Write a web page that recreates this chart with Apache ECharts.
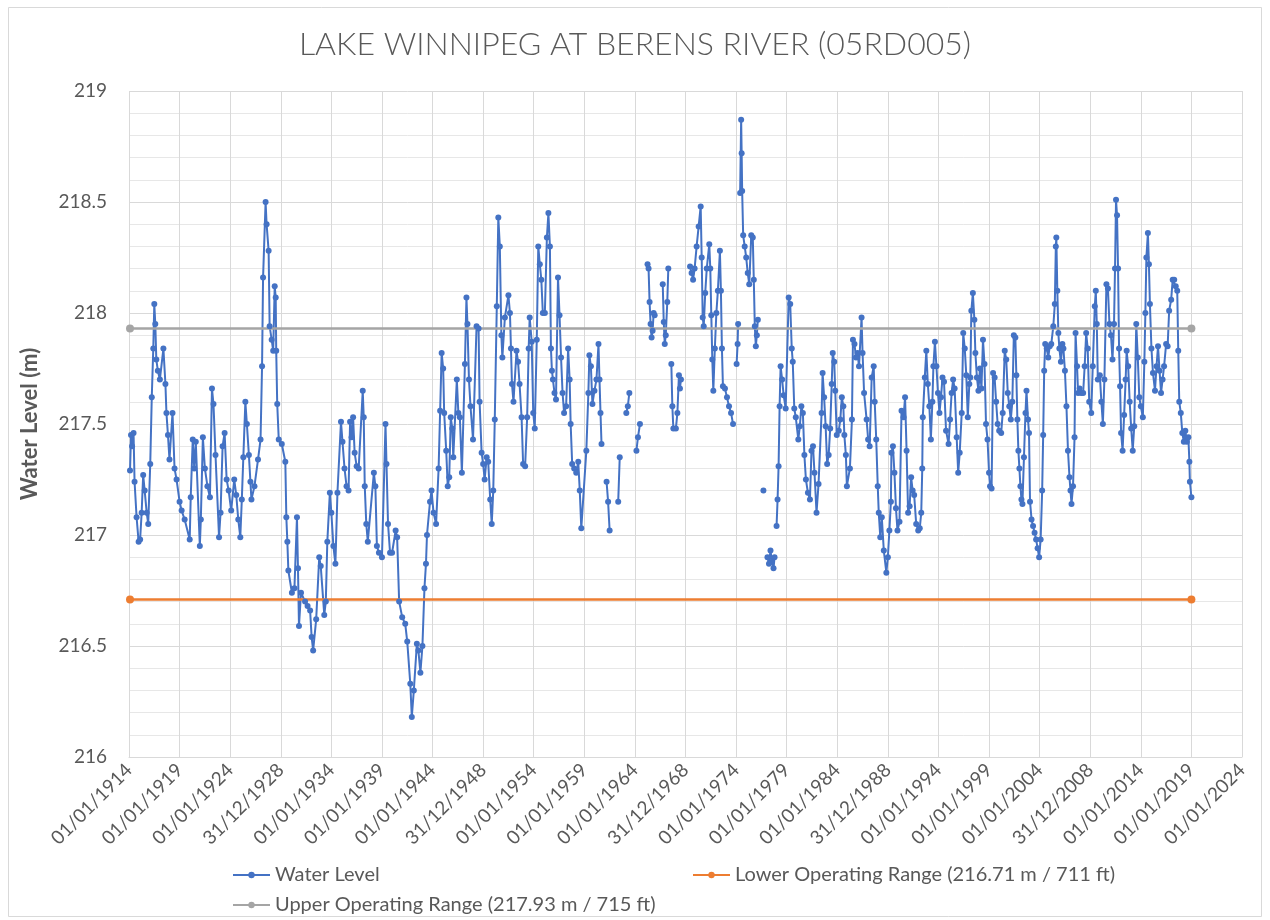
<!DOCTYPE html>
<html>
<head>
<meta charset="utf-8">
<title>Lake Winnipeg at Berens River (05RD005)</title>
<script src="https://cdn.jsdelivr.net/npm/echarts@6/dist/echarts.min.js"></script>
<style>
  html, body { margin: 0; padding: 0; background: #fff; }
  #chart { width: 1270px; height: 920px; }
</style>
</head>
<body>
<div id="chart"></div>
<script>
'use strict';

// sample dates (decimal years); null level = gap in the record
const sampleYears = [
  1914.10, 1914.20, 1914.30, 1914.45, 1914.55, 1914.75, 1914.95, 1915.10, 1915.25, 1915.40,
  1915.55, 1915.75, 1915.90, 1916.10, 1916.25, 1916.40, 1916.50, 1916.60, 1916.70, 1916.85,
  1917.05, 1917.40, 1917.60, 1917.70, 1917.85, 1918.00, 1918.30, 1918.50, 1918.70, 1919.00,
  1919.20, 1919.50, 1920.00, 1920.10, 1920.30, 1920.45, 1920.60, 1921.00, 1921.10, 1921.30,
  1921.50, 1921.75, 1922.00, 1922.20, 1922.35, 1922.55, 1922.90, 1923.05, 1923.25, 1923.45,
  1923.65, 1923.85, 1924.10, 1924.40, 1924.60, 1924.80, 1925.00, 1925.15, 1925.30, 1925.50,
  1925.65, 1925.85, 1926.00, 1926.10, 1926.40, 1926.75, 1927.00, 1927.15, 1927.25, 1927.50,
  1927.60, 1927.80, 1927.90, 1928.10, 1928.25, 1928.40, 1928.50, 1928.55, 1928.65, 1928.80,
  1929.10, 1929.45, 1929.55, 1929.65, 1929.75, 1930.10, 1930.35, 1930.60, 1930.70, 1930.80,
  1931.00, 1931.40, 1931.65, 1931.90, 1932.05, 1932.20, 1932.50, 1932.80, 1932.95, 1933.30,
  1933.45, 1933.60, 1933.85, 1934.00, 1934.20, 1934.40, 1934.60, 1934.95, 1935.10, 1935.30,
  1935.50, 1935.70, 1935.85, 1936.00, 1936.15, 1936.30, 1936.50, 1936.70, 1937.10, 1937.20,
  1937.30, 1937.45, 1937.60, 1938.20, 1938.35, 1938.50, 1938.70, 1939.00, 1939.35, 1939.45,
  1939.60, 1939.80, 1940.00, 1940.35, 1940.50, 1940.70, 1941.00, 1941.30, 1941.50, 1941.80,
  1941.95, 1942.15, 1942.45, 1942.60, 1942.80, 1943.00, 1943.20, 1943.35, 1943.45, 1943.75,
  1943.90, 1944.10, 1944.35, 1944.60, 1944.75, 1944.90, 1945.05, 1945.15, 1945.35, 1945.50,
  1945.65, 1945.80, 1945.95, 1946.05, 1946.40, 1946.55, 1946.70, 1946.90, 1947.20, 1947.35,
  1947.45, 1947.60, 1947.75, 1948.00, 1948.35, 1948.55, 1948.65, 1948.85, 1949.00, 1949.15,
  1949.35, 1949.50, 1949.70, 1949.85, 1950.00, 1950.15, 1950.35, 1950.50, 1950.65, 1950.80,
  1950.90, 1951.15, 1951.50, 1951.65, 1951.75, 1951.85, 1952.00, 1952.30, 1952.45, 1952.60,
  1952.80, 1952.95, 1953.15, 1953.35, 1953.50, 1953.60, 1953.80, 1953.95, 1954.10, 1954.30,
  1954.45, 1954.60, 1954.75, 1954.90, 1955.10, 1955.30, 1955.45, 1955.60, 1955.70, 1955.80,
  1955.90, 1956.05, 1956.20, 1956.40, 1956.55, 1956.70, 1956.85, 1957.00, 1957.20, 1957.40,
  1957.55, 1957.65, 1957.80, 1958.00, 1958.20, 1958.40, 1958.55, 1958.70, 1959.20, 1959.40,
  1959.50, 1959.65, 1959.80, 1960.00, 1960.20, 1960.40, 1960.50, 1960.60, 1960.70, 1960.95,
  1961.20, 1961.35, 1961.50, 1961.90, 1962.35, 1962.50, 1962.80, 1963.15, 1963.30, 1963.45,
  1963.80, 1964.15, 1964.30, 1964.50, 1964.90, 1965.25, 1965.35, 1965.45, 1965.55, 1965.65,
  1965.75, 1965.85, 1965.95, 1966.40, 1966.75, 1966.85, 1966.95, 1967.05, 1967.20, 1967.30,
  1967.45, 1967.60, 1967.70, 1967.80, 1968.05, 1968.20, 1968.35, 1968.45, 1968.55, 1969.00,
  1969.45, 1969.60, 1969.75, 1969.90, 1970.10, 1970.30, 1970.50, 1970.60, 1970.70, 1970.80,
  1970.95, 1971.10, 1971.35, 1971.45, 1971.55, 1971.65, 1971.75, 1971.90, 1972.05, 1972.20,
  1972.40, 1972.50, 1972.60, 1972.70, 1972.90, 1973.10, 1973.30, 1973.50, 1973.70, 1973.90,
  1974.05, 1974.15, 1974.20, 1974.30, 1974.40, 1974.50, 1974.55, 1974.60, 1974.70, 1974.85,
  1975.00, 1975.15, 1975.30, 1975.50, 1975.65, 1975.75, 1975.85, 1975.95, 1976.05, 1976.15,
  1976.40, 1976.70, 1976.90, 1977.10, 1977.25, 1977.40, 1977.55, 1977.70, 1977.80, 1977.90,
  1978.00, 1978.10, 1978.20, 1978.30, 1978.40, 1978.55, 1978.70, 1978.90, 1979.20, 1979.35,
  1979.50, 1979.60, 1979.75, 1979.90, 1980.15, 1980.30, 1980.45, 1980.60, 1980.75, 1980.90,
  1981.10, 1981.30, 1981.45, 1981.60, 1981.75, 1981.95, 1982.15, 1982.45, 1982.55, 1982.70,
  1982.85, 1983.00, 1983.15, 1983.30, 1983.45, 1983.55, 1983.70, 1983.80, 1983.95, 1984.15,
  1984.30, 1984.45, 1984.60, 1984.70, 1984.85, 1984.95, 1985.25, 1985.45, 1985.55, 1985.70,
  1985.85, 1986.00, 1986.15, 1986.40, 1986.50, 1986.65, 1986.90, 1987.05, 1987.20, 1987.40,
  1987.60, 1987.70, 1987.85, 1988.00, 1988.10, 1988.25, 1988.40, 1988.60, 1988.85, 1989.00,
  1989.15, 1989.30, 1989.35, 1989.50, 1989.65, 1989.80, 1989.95, 1990.15, 1990.35, 1990.55,
  1990.70, 1990.85, 1991.00, 1991.15, 1991.30, 1991.45, 1991.60, 1991.80, 1992.00, 1992.15,
  1992.30, 1992.40, 1992.45, 1992.65, 1992.80, 1992.95, 1993.10, 1993.25, 1993.40, 1993.50,
  1993.65, 1993.80, 1993.95, 1994.10, 1994.25, 1994.40, 1994.55, 1994.75, 1995.00, 1995.15,
  1995.30, 1995.45, 1995.60, 1995.80, 1995.95, 1996.10, 1996.30, 1996.45, 1996.60, 1996.75,
  1996.90, 1997.05, 1997.15, 1997.25, 1997.40, 1997.55, 1997.65, 1997.80, 1997.95, 1998.10,
  1998.25, 1998.40, 1998.55, 1998.70, 1998.85, 1999.00, 1999.10, 1999.25, 1999.40, 1999.55,
  1999.70, 1999.85, 2000.00, 2000.20, 2000.35, 2000.55, 2000.70, 2000.85, 2001.00, 2001.15,
  2001.30, 2001.45, 2001.60, 2001.70, 2001.80, 2001.90, 2002.00, 2002.10, 2002.20, 2002.30,
  2002.45, 2002.60, 2002.70, 2002.85, 2002.95, 2003.05, 2003.20, 2003.35, 2003.50, 2003.65,
  2003.80, 2003.95, 2004.10, 2004.25, 2004.35, 2004.45, 2004.55, 2004.70, 2004.85, 2005.00,
  2005.15, 2005.35, 2005.50, 2005.60, 2005.65, 2005.75, 2005.85, 2005.95, 2006.10, 2006.25,
  2006.35, 2006.50, 2006.65, 2006.80, 2006.95, 2007.05, 2007.15, 2007.30, 2007.45, 2007.55,
  2007.70, 2007.80, 2007.95, 2008.10, 2008.30, 2008.45, 2008.60, 2008.75, 2008.90, 2009.10,
  2009.25, 2009.45, 2009.55, 2009.65, 2009.75, 2009.95, 2010.10, 2010.25, 2010.40, 2010.60,
  2010.75, 2010.90, 2011.05, 2011.20, 2011.35, 2011.45, 2011.55, 2011.65, 2011.75, 2011.85,
  2011.95, 2012.05, 2012.20, 2012.35, 2012.50, 2012.60, 2012.75, 2012.90, 2013.05, 2013.20,
  2013.35, 2013.55, 2013.70, 2013.85, 2014.00, 2014.20, 2014.35, 2014.45, 2014.55, 2014.70,
  2014.80, 2014.90, 2015.05, 2015.20, 2015.40, 2015.55, 2015.70, 2015.85, 2016.00, 2016.15,
  2016.30, 2016.50, 2016.65, 2016.80, 2017.00, 2017.15, 2017.30, 2017.45, 2017.60, 2017.70,
  2017.80, 2017.95, 2018.10, 2018.25, 2018.40, 2018.55, 2018.70, 2018.80, 2018.85, 2019.00
]

// water level (m), same order as sampleYears
const waterLevel = [
  217.29, 217.45, 217.40, 217.46, 217.24, 217.08, 216.97, 216.98, 217.10, 217.27,
  217.20, 217.10, 217.05, 217.32, 217.62, 217.84, 218.04, 217.95, 217.79, 217.74,
  217.70, 217.84, 217.68, 217.55, 217.45, 217.34, 217.55, 217.30, 217.25, 217.15,
  217.11, 217.07, 216.98, 217.17, 217.43, 217.30, 217.42, 216.95, 217.07, 217.44,
  217.30, 217.22, 217.17, 217.66, 217.59, 217.36, 216.99, 217.10, 217.40, 217.46,
  217.25, 217.20, 217.11, 217.25, 217.18, 217.07, 216.99, 217.16, 217.35, 217.60,
  217.50, 217.36, 217.24, 217.16, 217.22, 217.34, 217.43, 217.76, 218.16, 218.50,
  218.40, 218.28, 217.94, 217.88, 217.83, 218.12, 218.07, 217.83, 217.59, 217.43,
  217.41, 217.33, 217.08, 216.97, 216.84, 216.74, 216.76, 217.08, 216.85, 216.59,
  216.74, 216.70, 216.68, 216.66, 216.54, 216.48, 216.62, 216.90, 216.86, 216.64,
  216.70, 216.97, 217.19, 217.10, 216.95, 216.87, 217.19, 217.51, 217.42, 217.30,
  217.22, 217.20, 217.51, 217.44, 217.53, 217.37, 217.31, 217.30, 217.65, 217.53,
  217.22, 217.05, 216.97, 217.28, 217.22, 216.95, 216.92, 216.90, 217.50, 217.32,
  217.05, 216.92, 216.92, 217.02, 216.99, 216.70, 216.63, 216.60, 216.52, 216.33,
  216.18, 216.30, 216.51, 216.48, 216.38, 216.50, 216.76, 216.87, 217.00, 217.15,
  217.20, 217.10, 217.05, 217.30, 217.56, 217.82, 217.75, 217.55, 217.38, 217.22,
  217.26, 217.53, 217.48, 217.35, 217.70, 217.55, 217.53, 217.28, 217.77, 218.07,
  217.95, 217.70, 217.58, 217.43, 217.94, 217.93, 217.60, 217.37, 217.32, 217.25,
  217.35, 217.33, 217.16, 217.05, 217.20, 217.52, 218.03, 218.43, 218.30, 217.90,
  217.80, 217.98, 218.08, 218.00, 217.84, 217.68, 217.60, 217.83, 217.78, 217.68,
  217.53, 217.32, 217.31, 217.53, 217.84, 217.98, 217.87, 217.55, 217.48, 217.88,
  218.30, 218.22, 218.15, 218.00, 218.00, 218.34, 218.45, 218.30, 217.84, 217.74,
  217.70, 217.64, 217.61, 218.16, 217.99, 217.80, 217.64, 217.55, 217.58, 217.84,
  217.70, 217.50, 217.32, 217.30, 217.28, 217.33, 217.20, 217.03, 217.38, 217.64,
  217.81, 217.76, 217.59, 217.65, 217.70, 217.86, 217.70, 217.55, 217.41, null,
  217.24, 217.15, 217.02, null, 217.15, 217.35, null, 217.55, 217.58, 217.64,
  null, 217.38, 217.44, 217.50, null, 218.22, 218.20, 218.05, 217.95, 217.89,
  217.92, 218.00, 217.99, null, 218.13, 217.96, 217.86, 217.90, 218.05, 218.20,
  null, 217.77, 217.58, 217.48, 217.48, 217.55, 217.72, 217.66, 217.70, null,
  218.21, 218.18, 218.15, 218.20, 218.30, 218.39, 218.48, 218.25, 217.98, 217.94,
  218.09, 218.20, 218.31, 218.20, 217.99, 217.79, 217.65, 217.84, 218.00, 218.10,
  218.28, 218.10, 217.84, 217.67, 217.66, 217.62, 217.58, 217.55, 217.50, null,
  217.77, 217.86, 217.95, null, 218.54, 218.87, 218.72, 218.55, 218.35, 218.30,
  218.25, 218.18, 218.13, 218.35, 218.34, 218.15, 217.94, 217.85, 217.90, 217.97,
  null, 217.20, null, 216.90, 216.87, 216.93, 216.88, 216.85, 216.90, null,
  217.04, 217.16, 217.31, 217.58, 217.76, 217.70, 217.63, 217.57, 218.07, 218.04,
  217.84, 217.78, 217.57, 217.53, 217.43, 217.49, 217.58, 217.55, 217.36, 217.25,
  217.19, 217.16, 217.38, 217.40, 217.28, 217.10, 217.23, 217.55, 217.73, 217.62,
  217.49, 217.32, 217.36, 217.48, 217.68, 217.82, 217.78, 217.65, 217.45, 217.47,
  217.52, 217.62, 217.58, 217.45, 217.36, 217.22, 217.30, 217.52, 217.88, 217.86,
  217.80, 217.82, 217.76, 217.98, 217.82, 217.64, 217.52, 217.43, 217.40, 217.71,
  217.76, 217.60, 217.43, 217.22, 217.10, 216.99, 217.08, 216.93, 216.83, 216.90,
  217.02, 217.15, 217.37, 217.40, 217.28, 217.12, 217.02, 217.06, 217.56, 217.53,
  217.62, 217.38, 217.10, 217.13, 217.26, 217.20, 217.18, 217.05, 217.02, 217.03,
  217.10, 217.30, 217.53, 217.71, 217.83, 217.68, 217.58, 217.43, 217.60, 217.76,
  217.87, 217.76, 217.64, 217.55, 217.62, 217.71, 217.69, 217.47, 217.41, 217.52,
  217.64, 217.70, 217.66, 217.44, 217.28, 217.37, 217.55, 217.91, 217.84, 217.72,
  217.53, 217.68, 217.71, 218.01, 218.09, 217.97, 217.82, 217.71, 217.65, 217.75,
  217.66, 217.88, 217.77, 217.50, 217.43, 217.28, 217.22, 217.21, 217.73, 217.71,
  217.60, 217.50, 217.47, 217.46, 217.55, 217.83, 217.79, 217.64, 217.58, 217.52,
  217.60, 217.90, 217.89, 217.72, 217.52, 217.38, 217.30, 217.22, 217.16, 217.14,
  217.35, 217.55, 217.65, 217.52, 217.46, 217.15, 217.07, 217.04, 217.01, 216.98,
  216.94, 216.90, 216.98, 217.20, 217.45, 217.74, 217.86, 217.84, 217.80, 217.85,
  217.86, 217.94, 218.04, 218.30, 218.34, 218.10, 217.91, 217.84, 217.78, 217.86,
  217.84, 217.74, 217.58, 217.38, 217.26, 217.20, 217.14, 217.22, 217.44, 217.91,
  217.76, 217.64, 217.66, 217.64, 217.64, 217.76, 217.91, 217.84, 217.60, 217.55,
  217.76, 218.03, 218.10, 217.95, 217.70, 217.72, 217.60, 217.50, 217.70, 218.13,
  218.11, 217.95, 217.90, 217.79, 217.95, 218.20, 218.51, 218.44, 218.20, 217.84,
  217.67, 217.46, 217.38, 217.54, 217.70, 217.83, 217.76, 217.60, 217.48, 217.38,
  217.49, 217.95, 217.80, 217.62, 217.58, 217.53, 217.78, 218.00, 218.25, 218.36,
  218.22, 218.04, 217.84, 217.73, 217.65, 217.76, 217.85, 217.74, 217.64, 217.70,
  217.76, 217.86, 217.85, 218.01, 218.06, 218.15, 218.15, 218.12, 218.10, 217.83,
  217.60, 217.55, 217.46, 217.42, 217.47, 217.42, 217.44, 217.33, 217.24, 217.17
]

// operating range lines, drawn from the first to the last sample
const rangeYears = [1914.10, 2019.00]
const lowerRange = 216.71
const upperRange = 217.93

const yTicks = [216, 216.5, 217, 217.5, 218, 218.5, 219]

const LOWER_NAME = 'Lower Operating Range (216.71 m / 711 ft)'
const UPPER_NAME = 'Upper Operating Range (217.93 m / 715 ft)'
const FONT = 'Lato, "Open Sans", sans-serif'
const TXT = '#595959'

// x axis works in days from 01/01/1914, ticks every 1826.25 days like the excel sheet
const DAY0 = Date.UTC(1914, 0, 1)
function toDay(y) {
  return (y - 1914) * 365.25
}
function pad(n) {
  return n < 10 ? '0' + n : '' + n
}
function dayLabel(v) {
  var d = new Date(DAY0 + Math.floor(v + 1e-6) * 86400000)
  return pad(d.getUTCDate()) + '/' + pad(d.getUTCMonth() + 1) + '/' + d.getUTCFullYear()
}

var waterData = sampleYears.map(function (y, i) {
  return [toDay(y), waterLevel[i] === null ? '-' : waterLevel[i]]
})
var lowerData = rangeYears.map(function (y) { return [toDay(y), lowerRange] })
var upperData = rangeYears.map(function (y) { return [toDay(y), upperRange] })

var chart = echarts.init(document.getElementById('chart'))

var legendText = { fontFamily: FONT, fontSize: 20, color: TXT }

var option = {
  animation: false,
  backgroundColor: '#ffffff',
  textStyle: { fontFamily: FONT },
  graphic: [{
    type: 'rect',
    silent: true,
    z: -10,
    shape: { x: 8.5, y: 7.5, width: 1253, height: 909 },
    style: { fill: 'none', stroke: '#d9d9d9', lineWidth: 1 }
  }],
  title: {
    text: 'LAKE WINNIPEG AT BERENS RIVER (05RD005)',
    left: 'center',
    top: 24,
    textStyle: { fontFamily: FONT, fontSize: 32, fontWeight: 300, color: TXT }
  },
  legend: [
    { data: ['Water Level'], left: 227, top: 860, itemWidth: 37, itemHeight: 8, itemGap: 0, textStyle: legendText },
    { data: [LOWER_NAME], left: 687, top: 860, itemWidth: 37, itemHeight: 8, itemGap: 0, textStyle: legendText },
    { data: [UPPER_NAME], left: 227, top: 890, itemWidth: 37, itemHeight: 8, itemGap: 0, textStyle: legendText }
  ],
  grid: { left: 129, top: 91, right: 28, bottom: 163 },
  xAxis: {
    type: 'value',
    min: 0,
    max: 22 * 1826.25,
    interval: 1826.25,
    axisLine: { show: true, lineStyle: { color: '#d9d9d9', width: 1 } },
    axisTick: { show: false },
    splitLine: { show: true, lineStyle: { color: '#d9d9d9', width: 1 } },
    axisLabel: {
      rotate: 45,
      margin: 10,
      fontFamily: FONT,
      fontSize: 19,
      color: TXT,
      formatter: dayLabel
    }
  },
  yAxis: {
    type: 'value',
    min: yTicks[0],
    max: yTicks[yTicks.length - 1],
    interval: 0.5,
    name: 'Water Level (m)',
    nameLocation: 'middle',
    nameGap: 88,
    nameTextStyle: { fontFamily: FONT, fontSize: 22, fontWeight: 'bold', color: TXT },
    axisLine: { show: false },
    axisTick: { show: false },
    splitLine: { show: true, lineStyle: { color: '#d9d9d9', width: 1 } },
    minorTick: { show: false, splitNumber: 5 },
    minorSplitLine: { show: true, lineStyle: { color: '#e7e7e7', width: 1 } },
    axisLabel: { fontFamily: FONT, fontSize: 19, color: TXT, margin: 22 }
  },
  series: [
    {
      name: 'Water Level',
      type: 'line',
      data: waterData,
      connectNulls: false,
      symbol: 'circle',
      symbolSize: 6,
      showSymbol: true,
      color: '#4472C4',
      itemStyle: { color: '#4472C4' },
      lineStyle: { color: '#4472C4', width: 2 }
    },
    {
      name: LOWER_NAME,
      type: 'line',
      data: lowerData,
      symbol: 'circle',
      symbolSize: 8,
      color: '#ED7D31',
      itemStyle: { color: '#ED7D31' },
      lineStyle: { color: '#ED7D31', width: 2.5 }
    },
    {
      name: UPPER_NAME,
      type: 'line',
      data: upperData,
      symbol: 'circle',
      symbolSize: 8,
      color: '#A5A5A5',
      itemStyle: { color: '#A5A5A5' },
      lineStyle: { color: '#A5A5A5', width: 2.5 }
    }
  ]
}

chart.setOption(option)
</script>
</body>
</html>
